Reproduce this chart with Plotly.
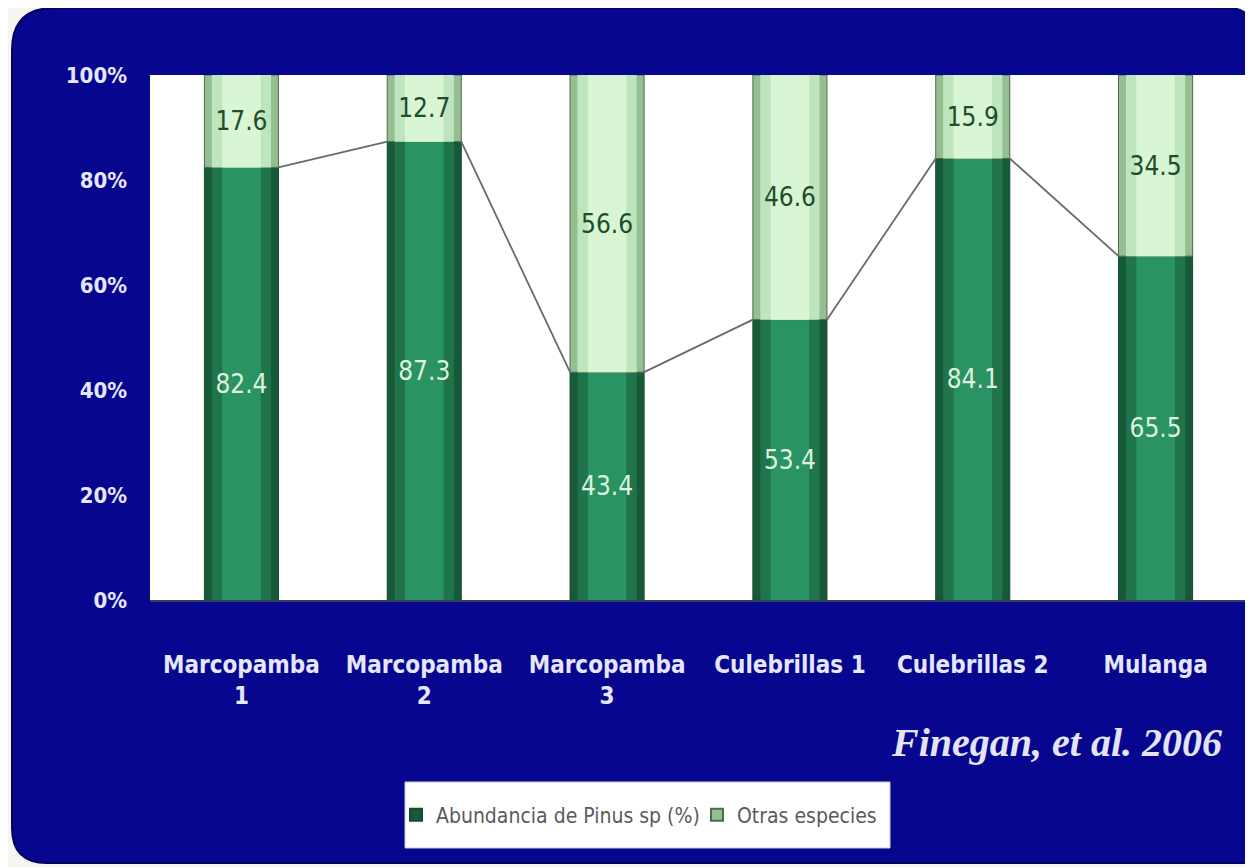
import plotly.graph_objects as go

categories = ["Marcopamba<br>1", "Marcopamba<br>2", "Marcopamba<br>3", "Culebrillas 1", "Culebrillas 2", "Mulanga"]
pinus = [82.4, 87.3, 43.4, 53.4, 84.1, 65.5]
otras = [17.6, 12.7, 56.6, 46.6, 15.9, 34.5]
y_ticks = [0, 20, 40, 60, 80, 100]
y_ticktext = ["0%", "20%", "40%", "60%", "80%", "100%"]
series_names = ["Abundancia de Pinus sp (%)", "Otras especies"]

# page body margin of the viewer shifts the figure by 8px
OFF = 8
W, H = 1253 - OFF, 867 - OFF
L, R = 150 - OFF, 6
T = 75 - OFF
B = H - (600 - OFF)
PW, PH = W - L - R, H - T - B


def px(x):
    return (x - OFF - L) / PW


def py(y):
    return (H - B - (y - OFF)) / PH


xs = list(range(len(categories)))
BW = 0.405
FONT = "DejaVu Sans Condensed, Liberation Sans Narrow, Arial Narrow, sans-serif"

fig = go.Figure()

# Pinus layers (cylinder-like shading)
pin_layers = [(BW, "#175a38", True), (BW * 0.8, "#1f744b", False), (BW * 0.52, "#2a9363", False)]
for i, (w, c, leg) in enumerate(pin_layers):
    fig.add_trace(go.Bar(
        x=xs, y=pinus, base=[0] * len(pinus), width=w,
        marker=dict(color=c, line=dict(color="#124a2d", width=1 if i == 0 else 0)),
        name=series_names[0], showlegend=leg, legendgroup="p",
        textposition="none", hoverinfo="skip",
    ))

otr_layers = [(BW, "#93bf93", True), (BW * 0.8, "#bfe5bd", False), (BW * 0.52, "#d8f6d3", False)]
for i, (w, c, leg) in enumerate(otr_layers):
    fig.add_trace(go.Bar(
        x=xs, y=otras, base=pinus, width=w,
        marker=dict(color=c, line=dict(color="#4d6b4d", width=1 if i == 0 else 0)),
        name=series_names[1], showlegend=leg, legendgroup="o",
        textposition="none", hoverinfo="skip",
    ))

# Transparent label carriers at full bar width
fig.add_trace(go.Bar(
    x=xs, y=pinus, base=[0] * len(pinus), width=BW,
    marker=dict(color="rgba(0,0,0,0)", line=dict(width=0)),
    text=[f"{v:.1f}" for v in pinus], textposition="inside", insidetextanchor="middle",
    textfont=dict(family=FONT, size=26, color="#dff2df"), textangle=0,
    showlegend=False, hoverinfo="skip",
))
fig.add_trace(go.Bar(
    x=xs, y=otras, base=pinus, width=BW,
    marker=dict(color="rgba(0,0,0,0)", line=dict(width=0)),
    text=[f"{v:.1f}" for v in otras], textposition="inside", insidetextanchor="middle",
    textfont=dict(family=FONT, size=26, color="#1d4d2d"), textangle=0,
    showlegend=False, hoverinfo="skip",
))

# Series lines between tops of Pinus bars
for i in range(len(pinus) - 1):
    fig.add_trace(go.Scatter(
        x=[xs[i] + BW / 2, xs[i + 1] - BW / 2], y=[pinus[i], pinus[i + 1]],
        mode="lines", line=dict(color="#6a6a6a", width=1.8),
        showlegend=False, hoverinfo="skip",
    ))

# Background: rounded navy panel
x0, y0, x1, y1 = 12, 8, 1253, 863
rtl, rtr, rbl, rbr = 42, 25, 35, 10
path = (
    f"M {px(x0 + rtl)},{py(y0)} L {px(x1 - rtr)},{py(y0)} "
    f"Q {px(x1)},{py(y0)} {px(x1)},{py(y0 + rtr)} "
    f"L {px(x1)},{py(y1 - rbr)} Q {px(x1)},{py(y1)} {px(x1 - rbr)},{py(y1)} "
    f"L {px(x0 + rbl)},{py(y1)} Q {px(x0)},{py(y1)} {px(x0)},{py(y1 - rbl)} "
    f"L {px(x0)},{py(y0 + rtl)} Q {px(x0)},{py(y0)} {px(x0 + rtl)},{py(y0)} Z"
)
shapes = [
    dict(type="path", xref="paper", yref="paper", path=path, fillcolor="#06068e",
         line=dict(color="#03035e", width=2), layer="below"),
    dict(type="rect", xref="paper", yref="paper", x0=0, x1=1, y0=0, y1=1,
         fillcolor="#ffffff", line=dict(width=0), layer="below"),
    dict(type="rect", xref="paper", yref="paper", x0=px(405), x1=px(890), y0=py(848), y1=py(782),
         fillcolor="#ffffff", line=dict(color="#c8c8d8", width=1), layer="below"),
]

fig.update_layout(
    width=W, height=H,
    margin=dict(l=L, r=R, t=T, b=B),
    paper_bgcolor="#f6f6f0",
    plot_bgcolor="#ffffff",
    barmode="overlay",
    shapes=shapes,
    showlegend=True,
    legend=dict(
        orientation="h", x=px(396), xanchor="left", y=py(815), yanchor="middle",
        bgcolor="rgba(0,0,0,0)", font=dict(family=FONT, size=21, color="#5a5a5a"),
        itemsizing="constant", traceorder="normal", itemwidth=30, entrywidth=256,
    ),
    annotations=[dict(
        text="<b><i>Finegan, et al. 2006</i></b>", xref="paper", yref="paper",
        x=px(1224), y=py(742), xanchor="right", yanchor="middle", showarrow=False,
        font=dict(family="Liberation Serif, DejaVu Serif, serif", size=40, color="#e4e4f4"),
    )],
)

fig.update_xaxes(
    range=[-0.5, len(categories) - 0.5], tickvals=xs, ticktext=categories,
    showgrid=False, zeroline=False, showline=True, linecolor="#3a3a5a", linewidth=2,
    ticks="", ticklabelstandoff=42,
    tickfont=dict(family=FONT, size=24, color="#e6e6ff", weight="bold"),
)
fig.update_yaxes(
    range=[0, 100], tickvals=y_ticks, ticktext=y_ticktext,
    showgrid=False, zeroline=False, showline=False, ticks="", ticklabelstandoff=22,
    tickfont=dict(family=FONT, size=22, color="#e6e6ff", weight="bold"),
)

fig.write_html("out.html")
